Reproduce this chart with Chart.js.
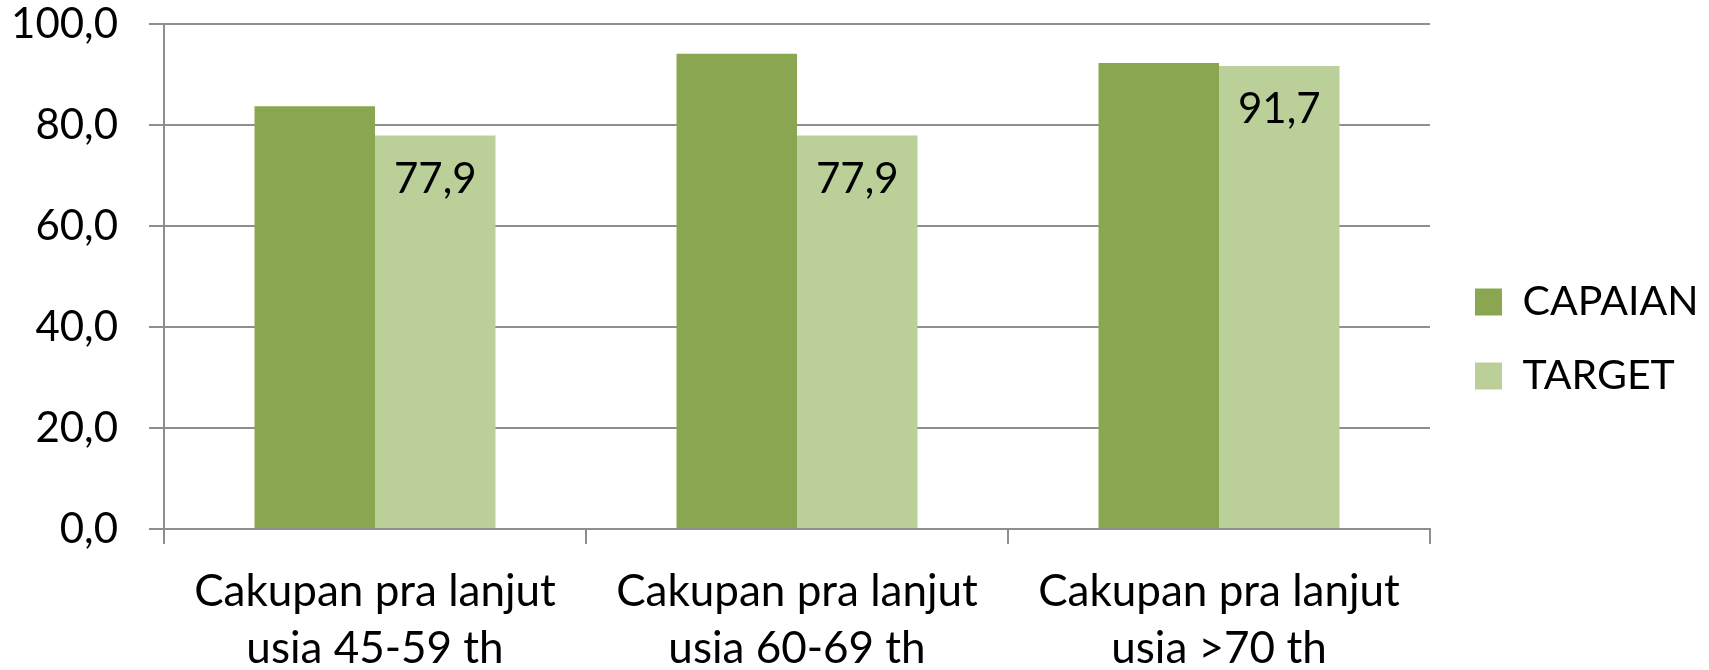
<!DOCTYPE html>
<html>
<head>
<meta charset="utf-8">
<script src="https://cdn.jsdelivr.net/npm/chart.js@4.4.1/dist/chart.umd.min.js"></script>
<style>
  html, body { margin: 0; padding: 0; background: #ffffff; }
  #wrap { width: 1709px; height: 670px; position: relative; }
</style>
</head>
<body>
<div id="wrap"><canvas id="c" width="1709" height="670"></canvas></div>
<script>
// ---- data ----
const categories = [
  ["Cakupan pra lanjut", "usia 45-59 th"],
  ["Cakupan pra lanjut", "usia 60-69 th"],
  ["Cakupan pra lanjut", "usia >70 th"]
];
const seriesNames = ["CAPAIAN", "TARGET"];
const capaianValues = [83.7, 94.1, 92.3];
const targetValues = [77.9, 77.9, 91.7];
const yTicks = [0, 20, 40, 60, 80, 100];

const FONT = "Lato, 'Liberation Sans', sans-serif";
const fmt = v => Number(v).toFixed(1).replace('.', ',');

const layoutPlugin = {
  id: 'layoutTweaks',
  beforeLayout(chart) {
    const lg = chart.legend;
    if (lg && !lg._patched) {
      const orig = lg.fit;
      lg.fit = function () {
        orig.call(this);
        if (!this.isHorizontal()) this.width = 279;
      };
      lg._patched = true;
    }
  },
  afterLayout(chart) {
    const lg = chart.legend;
    if (lg) {
      lg.left += 12; lg.right += 12;
      lg.top -= 8; lg.bottom -= 8;
    }
  }
};

const labelPlugin = {
  id: 'targetLabels',
  afterDatasetsDraw(chart) {
    const ctx = chart.ctx;
    const meta = chart.getDatasetMeta(1);
    ctx.save();
    ctx.font = "42px " + FONT;
    ctx.fillStyle = '#000000';
    ctx.textAlign = 'center';
    ctx.textBaseline = 'alphabetic';
    meta.data.forEach((bar, i) => {
      const v = chart.data.datasets[1].data[i];
      ctx.fillText(fmt(v), bar.x, bar.y + 57);
    });
    ctx.restore();
  }
};

new Chart(document.getElementById('c'), {
  type: 'bar',
  data: {
    labels: categories,
    datasets: [
      { label: seriesNames[0], data: capaianValues, backgroundColor: '#8BA650',
        categoryPercentage: 0.571, barPercentage: 1.0 },
      { label: seriesNames[1], data: targetValues, backgroundColor: '#BBCF98',
        categoryPercentage: 0.571, barPercentage: 1.0 }
    ]
  },
  options: {
    responsive: false,
    animation: false,
    devicePixelRatio: 1,
    layout: { padding: { top: 24, left: 0, right: 0, bottom: 0 } },
    plugins: {
      tooltip: { enabled: false },
      legend: {
        position: 'right',
        align: 'center',
        labels: {
          boxWidth: 27,
          boxHeight: 27,
          padding: 33,
          color: '#000000',
          font: { family: FONT, size: 41 }
        }
      }
    },
    scales: {
      x: {
        offset: true,
        grid: {
          offset: true,
          drawOnChartArea: false,
          drawTicks: true,
          tickLength: 15,
          color: '#8e8e8e',
          lineWidth: 2
        },
        border: { display: true, color: '#8e8e8e', width: 2 },
        ticks: {
          color: '#000000',
          padding: 19,
          maxRotation: 0,
          autoSkip: false,
          font: { family: FONT, size: 44, lineHeight: 1.3 }
        },
        afterFit(scale) { scale.height = 141; scale.paddingLeft = 0; scale.paddingRight = 0; }
      },
      y: {
        min: 0,
        max: 100,
        afterBuildTicks(scale) { scale.ticks = yTicks.map(v => ({ value: v })); },
        grid: {
          color: '#8e8e8e',
          lineWidth: 2,
          drawTicks: true,
          tickLength: 15
        },
        border: { display: true, color: '#8e8e8e', width: 2 },
        ticks: {
          color: '#000000',
          padding: 31,
          callback: v => fmt(v),
          font: { family: FONT, size: 42, lineHeight: 1 }
        },
        afterFit(scale) { scale.width = 164; scale.paddingTop = 0; scale.paddingBottom = 0; }
      }
    }
  },
  plugins: [layoutPlugin, labelPlugin]
});
</script>
</body>
</html>
